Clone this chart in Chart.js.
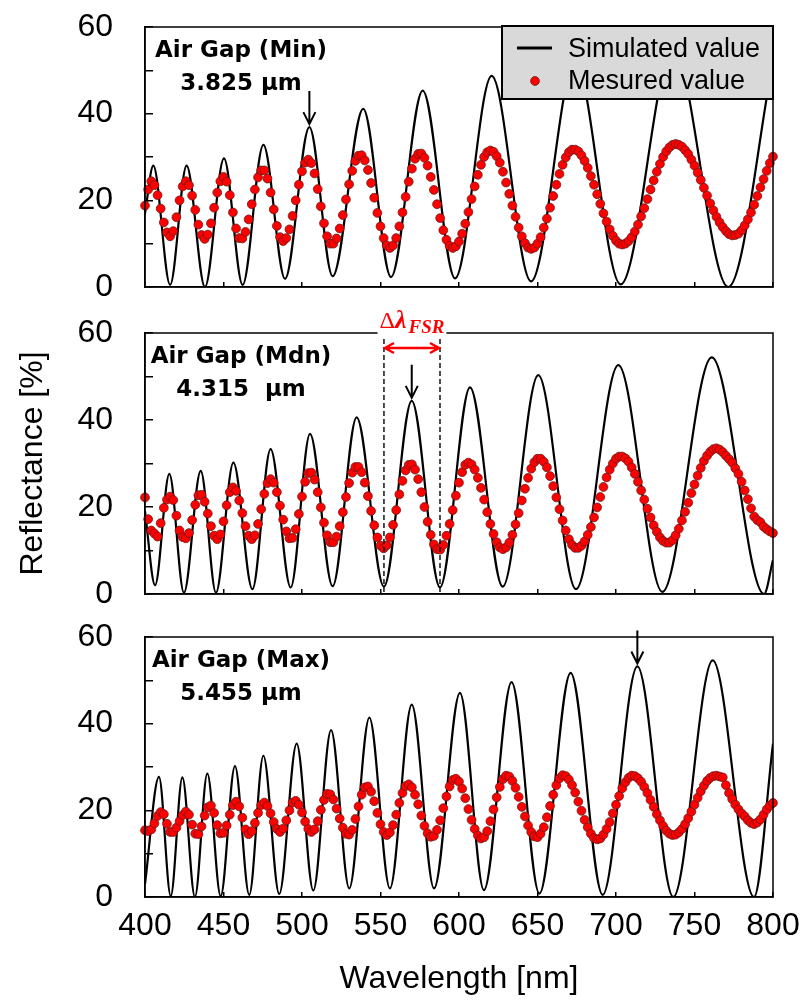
<!DOCTYPE html>
<html>
<head>
<meta charset="utf-8">
<title>Reflectance spectra</title>
<script src="https://cdn.jsdelivr.net/npm/chart.js@4.4.1/dist/chart.umd.min.js"></script>
<style>
  body { margin: 0; background: #fff; }
  #wrap { position: relative; width: 805px; height: 1000px; }
  #wrap canvas { position: absolute; left: 0; }
</style>
</head>
<body>
<div id="wrap">
  <canvas id="panelMin" width="805" height="310" style="top:0px"></canvas>
  <canvas id="panelMdn" width="805" height="320" style="top:300px"></canvas>
  <canvas id="panelMax" width="805" height="400" style="top:600px"></canvas>
</div>
<script>
// measured reflectance [%], one reading every 2 nm from 400 to 800 nm
const measStart = 400;
const measStep = 2;

const measMin = [
  18.8, 22.5, 24.4, 23.5, 21.2, 18.1, 14.9, 12.6, 11.7, 12.9,
  16.1, 20.0, 23.2, 24.4, 23.5, 21.1, 17.8, 14.4, 12.0, 11.1,
  12.1, 14.7, 18.3, 21.8, 24.4, 25.4, 24.3, 21.2, 17.2, 13.5,
  11.3, 11.2, 12.7, 15.6, 19.1, 22.5, 25.3, 26.9, 26.9, 25.0,
  21.8, 17.9, 14.1, 11.5, 10.6, 11.3, 13.3, 16.4, 20.0, 23.6,
  26.7, 28.7, 29.4, 28.6, 26.2, 22.6, 18.6, 14.7, 11.7, 10.0,
  10.0, 11.2, 13.5, 16.6, 20.2, 23.7, 26.8, 29.1, 30.3, 30.4,
  29.2, 27.0, 24.0, 20.6, 17.1, 14.0, 11.3, 9.6, 9.0, 9.6,
  11.3, 14.0, 17.2, 20.8, 24.3, 27.3, 29.6, 30.7, 30.8, 29.8,
  28.0, 25.4, 22.4, 19.1, 15.9, 13.1, 10.9, 9.5, 9.0, 9.4,
  10.5, 12.3, 14.6, 17.3, 20.3, 23.2, 25.9, 28.2, 30.0, 31.1,
  31.5, 31.2, 30.2, 28.7, 26.6, 24.1, 21.5, 18.8, 16.2, 13.7,
  11.7, 10.1, 9.1, 8.8, 9.1, 10.0, 11.5, 13.7, 15.8, 18.3,
  21.0, 23.6, 26.1, 28.2, 29.9, 31.1, 31.7, 31.7, 31.3, 30.4,
  29.1, 27.5, 25.6, 23.6, 21.4, 19.2, 17.0, 15.1, 13.3, 11.8,
  10.7, 10.0, 9.8, 10.0, 10.6, 11.5, 12.8, 14.4, 16.3, 18.2,
  20.3, 22.5, 24.6, 26.6, 28.4, 30.0, 31.3, 32.2, 32.8, 33.0,
  32.8, 32.4, 31.6, 30.7, 29.4, 28.0, 26.4, 24.7, 22.9, 21.1,
  19.3, 17.7, 16.2, 14.9, 13.8, 12.9, 12.2, 11.9, 12.0, 12.3,
  13.1, 14.2, 15.6, 17.2, 19.0, 21.0, 23.0, 24.9, 26.8, 28.6,
  30.1
];

const measMdn = [
  22.2, 17.2, 14.6, 13.9, 13.2, 16.3, 19.8, 21.7, 22.4, 21.6,
  18.0, 14.6, 13.1, 12.8, 14.0, 17.0, 20.5, 22.7, 22.8, 21.2,
  18.5, 15.6, 13.4, 12.6, 13.7, 16.7, 20.4, 23.4, 24.5, 23.7,
  21.5, 18.6, 15.6, 13.4, 12.6, 13.5, 16.1, 19.5, 23.0, 25.5,
  26.4, 25.6, 23.4, 20.3, 17.1, 14.4, 12.8, 12.9, 14.9, 18.4,
  22.4, 25.8, 27.8, 27.9, 26.3, 23.4, 19.9, 16.4, 13.5, 11.9,
  11.9, 13.2, 15.6, 18.8, 22.3, 25.5, 27.9, 29.2, 29.2, 28.0,
  25.6, 22.5, 19.1, 15.8, 13.0, 11.1, 10.5, 11.2, 13.0, 15.9,
  19.3, 22.9, 26.0, 28.4, 29.7, 29.8, 28.6, 26.4, 23.4, 20.0,
  16.6, 13.6, 11.4, 10.3, 10.2, 11.3, 13.4, 16.1, 19.3, 22.6,
  25.6, 28.0, 29.7, 30.2, 29.8, 28.6, 26.7, 24.4, 21.7, 18.8,
  16.1, 13.8, 11.9, 10.7, 10.3, 10.7, 11.8, 13.6, 16.0, 18.6,
  21.5, 24.2, 26.7, 28.8, 30.3, 31.1, 31.1, 30.4, 29.1, 27.1,
  24.8, 22.2, 19.5, 16.9, 14.6, 12.6, 11.3, 10.6, 10.6, 11.1,
  12.1, 13.6, 15.4, 17.6, 19.9, 22.3, 24.6, 26.8, 28.6, 30.0,
  31.1, 31.6, 31.6, 31.2, 30.4, 29.1, 27.6, 25.8, 23.8, 21.7,
  19.6, 17.6, 15.8, 14.3, 13.0, 12.2, 11.8, 11.8, 12.4, 13.5,
  15.0, 16.9, 18.9, 21.0, 23.2, 25.2, 27.2, 29.0, 30.6, 31.8,
  32.7, 33.3, 33.5, 33.2, 32.6, 31.8, 31.0, 30.2, 28.9, 27.6,
  25.8, 23.8, 21.8, 19.7, 17.8, 17.0, 16.5, 15.5, 14.9, 14.4,
  14.0
];

const measMax = [
  15.4, 15.2, 15.6, 17.0, 18.7, 19.6, 19.1, 16.9, 15.0, 15.0,
  16.0, 17.5, 18.9, 19.7, 19.0, 16.7, 14.6, 14.5, 16.3, 18.8,
  20.7, 21.1, 19.4, 16.6, 14.7, 14.8, 16.5, 19.0, 21.2, 22.0,
  20.9, 18.3, 15.6, 14.5, 15.2, 17.1, 19.4, 21.2, 21.8, 21.0,
  19.3, 17.3, 15.7, 15.0, 15.8, 17.7, 20.0, 21.8, 22.2, 21.3,
  19.5, 17.4, 15.7, 15.0, 15.6, 17.5, 20.1, 22.4, 23.8, 23.7,
  22.5, 20.4, 18.1, 16.0, 14.6, 14.4, 15.5, 18.0, 20.9, 23.6,
  25.3, 25.5, 24.3, 22.1, 19.4, 16.8, 15.0, 14.3, 14.9, 16.6,
  19.0, 21.7, 24.0, 25.6, 26.0, 25.3, 23.6, 21.4, 18.8, 16.4,
  14.7, 13.9, 14.1, 15.5, 17.7, 20.5, 23.2, 25.5, 27.0, 27.3,
  26.6, 25.0, 22.8, 20.3, 17.8, 15.7, 14.2, 13.5, 13.8, 15.2,
  17.5, 20.2, 23.0, 25.4, 27.2, 28.0, 27.8, 26.8, 25.2, 23.1,
  20.8, 18.6, 16.5, 15.0, 14.0, 13.8, 14.6, 16.1, 18.4, 21.0,
  23.6, 25.8, 27.4, 28.1, 27.9, 27.1, 25.8, 24.1, 22.0, 19.9,
  17.8, 16.1, 14.6, 13.6, 13.3, 13.5, 14.4, 15.7, 17.3, 19.3,
  21.3, 23.3, 25.1, 26.5, 27.5, 28.0, 27.9, 27.4, 26.6, 25.4,
  24.0, 22.4, 20.8, 19.1, 17.7, 16.4, 15.3, 14.6, 14.3, 14.4,
  14.9, 15.7, 16.8, 18.2, 19.7, 21.3, 22.9, 24.4, 25.7, 26.8,
  27.5, 27.9, 28.0, 27.8, 27.6, 25.8, 24.0, 22.6, 21.3, 20.2,
  19.3, 18.6, 17.7, 17.1, 16.8, 17.2, 17.9, 19.0, 20.2, 21.1,
  21.7
];

// simulated curves, given at their maxima and minima (wavelength nm, reflectance %)
const simMinWl = [400, 405.3, 416, 426.5, 438.2, 450.3, 462.2, 475.4, 489.2, 504.7, 519.5,
  539, 556.7, 576.9, 597.5, 620.8, 645.9, 673.9, 703, 736.3, 771.5, 800];
const simMinR = [17, 28.0, 0.5, 28.0, 0, 29.7, 0.5, 32.8, 1.9, 36.9, 2.5,
  41.1, 2.3, 45.3, 2.0, 48.7, 1.3, 52, 0.6, 55, 0, 52];

const simMdnWl = [400, 406.4, 415.5, 424.8, 435.5, 445.2, 456.3, 468.4, 480, 492.8, 505.1, 519.5,
  534.8, 552.2, 569.9, 587.9, 607, 627.8, 650.5, 674.5, 701.5, 729.5, 761, 794.3, 800];
const simMdnR = [19, 2.0, 27.6, 0.3, 28.3, 0.3, 30.2, 1.1, 33.3, 1.5, 36.8, 1.8,
  40.6, 1.7, 44.4, 1.5, 47.5, 1.7, 50.3, 1.1, 52.6, 0.5, 54.4, 0, 7.8];

const simMaxWl = [400, 408.9, 416.4, 423.8, 431.8, 439.7, 448.2, 457.3, 466.4, 475.4, 485.5, 496.6,
  507.2, 518.5, 530.1, 542.9, 556, 569.9, 584.1, 600.6, 615.9, 633.5, 651.2, 671.1, 691.5,
  713.6, 736.5, 761.6, 787.9, 800];
const simMaxR = [3, 27.7, 0.2, 27.6, 0, 28.5, 0.2, 30.2, 0.5, 32.6, 0.7, 35.4,
  1.5, 38.5, 2.0, 41.4, 2.0, 44.4, 2.0, 47.1, 1.6, 49.6, 0.8, 51.7, 0.5,
  53.2, 0, 54.6, 0, 35.4];

const gapNames = ['Air Gap (Min)', 'Air Gap (Mdn)', 'Air Gap (Max)'];
const gapSizes = ['3.825 μm', '4.315  μm', '5.455 μm'];
// index of the simulated peak marked with an arrow in each panel
const markedPeak = [9, 14, 25];
// the two minima bracketing the free spectral range in the middle panel
const fsrMinima = [13, 15];

const xRange = [400, 800];
const xStep = 50;
const yRange = [0, 60];
const yStep = 10;

const FONT = '"Liberation Sans", Arial, sans-serif';
const RED = '#ff0000';
Chart.defaults.font.family = FONT;
Chart.defaults.color = '#000';

function downArrow(ctx, x, y0, y1) {
  ctx.strokeStyle = '#000';
  ctx.lineWidth = 2;
  ctx.beginPath();
  ctx.moveTo(x, y0);
  ctx.lineTo(x, y1);
  ctx.moveTo(x - 6, y1 - 12);
  ctx.lineTo(x, y1);
  ctx.lineTo(x + 6, y1 - 12);
  ctx.stroke();
}

function spanArrow(ctx, xa, xb, y) {
  ctx.strokeStyle = RED;
  ctx.lineWidth = 2.5;
  ctx.beginPath();
  ctx.moveTo(xa + 1, y);
  ctx.lineTo(xb - 1, y);
  ctx.moveTo(xa + 10, y - 5);
  ctx.lineTo(xa + 1, y);
  ctx.lineTo(xa + 10, y + 5);
  ctx.moveTo(xb - 10, y - 5);
  ctx.lineTo(xb - 1, y);
  ctx.lineTo(xb - 10, y + 5);
  ctx.stroke();
}

function drawFsr(ctx, area, xa, xb) {
  ctx.strokeStyle = '#000';
  ctx.lineWidth = 1.4;
  ctx.setLineDash([5, 3]);
  [xa, xb].forEach(px => {
    ctx.beginPath();
    ctx.moveTo(px, area.top + 6);
    ctx.lineTo(px, area.bottom);
    ctx.stroke();
  });
  ctx.setLineDash([]);
  spanArrow(ctx, xa, xb, area.top + 15);

  // Δλ with FSR subscript
  const fDelta = '24px "Liberation Serif"';
  const fLambda = 'bold italic 26px "Liberation Serif"';
  const fSub = 'bold italic 19px "Liberation Serif"';
  ctx.font = fDelta; const wD = ctx.measureText('Δ').width;
  ctx.font = fLambda; const wL = ctx.measureText('λ').width;
  ctx.font = fSub; const wS = ctx.measureText('FSR').width;
  const total = wD + wL + wS + 2;
  let tx = (xa + xb) / 2 - total / 2;
  const base = area.top - 5;
  ctx.fillStyle = '#fff';
  ctx.fillRect(tx - 2, base - 19, total + 4, 25);
  ctx.fillStyle = RED;
  ctx.textAlign = 'left';
  ctx.textBaseline = 'alphabetic';
  ctx.font = fDelta; ctx.fillText('Δ', tx, base); tx += wD;
  ctx.font = fLambda; ctx.fillText('λ', tx, base); tx += wL + 2;
  ctx.font = fSub; ctx.fillText('FSR', tx, base + 5);
}

function drawLegend(ctx, area, chart) {
  const w = 271, h = 73;
  const lx = area.right - w, ly = area.top - 1;
  ctx.fillStyle = '#d9d9d9';
  ctx.fillRect(lx, ly, w, h);
  ctx.strokeStyle = '#000';
  ctx.lineWidth = 2;
  ctx.strokeRect(lx, ly, w, h);

  const [meas, sim] = chart.data.datasets;
  ctx.lineWidth = 3;
  ctx.beginPath();
  ctx.moveTo(lx + 15, ly + 22);
  ctx.lineTo(lx + 50, ly + 22);
  ctx.stroke();

  ctx.beginPath();
  ctx.arc(lx + 33, ly + 55, 4.4, 0, Math.PI * 2);
  ctx.fillStyle = RED;
  ctx.fill();
  ctx.lineWidth = 0.8;
  ctx.strokeStyle = '#6b1b1b';
  ctx.stroke();

  ctx.fillStyle = '#000';
  ctx.font = '27px ' + FONT;
  ctx.textAlign = 'left';
  ctx.textBaseline = 'alphabetic';
  ctx.fillText(sim.label, lx + 66, ly + 31);
  ctx.fillText(meas.label, lx + 66, ly + 63);
}

function decoPlugin(p) {
  return {
    id: 'deco',
    afterDraw(chart) {
      const { ctx, chartArea: a, scales: { x, y } } = chart;
      ctx.save();
      // closed frame around the plot area
      ctx.strokeStyle = '#000';
      ctx.lineWidth = 1.5;
      ctx.strokeRect(a.left, a.top, a.right - a.left, a.bottom - a.top);

      ctx.fillStyle = '#000';
      ctx.font = 'bold 23px "DejaVu Sans"';
      ctx.textAlign = 'center';
      ctx.textBaseline = 'alphabetic';
      ctx.fillText(p.name, a.left + 96, a.top + 30);
      ctx.fillText(p.size, a.left + 96, a.top + 63);

      const px = x.getPixelForValue(p.simWl[p.mark]);
      const py = y.getPixelForValue(p.simR[p.mark]) - 3;
      downArrow(ctx, px, py - 33, py);

      if (p.fsr) {
        drawFsr(ctx, a, x.getPixelForValue(p.simWl[p.fsr[0]]), x.getPixelForValue(p.simWl[p.fsr[1]]));
      }
      if (p.legend) drawLegend(ctx, a, chart);
      ctx.restore();
    }
  };
}

function makePanel(id, p) {
  const canvas = document.getElementById(id);
  const H = canvas.height;
  return new Chart(canvas, {
    type: 'scatter',
    data: {
      datasets: [
        {
          label: 'Mesured value',
          data: p.meas.map((r, i) => ({ x: measStart + i * measStep, y: r })),
          pointRadius: 4.4,
          pointBackgroundColor: RED,
          pointBorderColor: '#6b1b1b',
          pointBorderWidth: 0.8,
          clip: false,
          order: 0
        },
        {
          label: 'Simulated value',
          data: p.simWl.map((w, i) => ({ x: w, y: p.simR[i] })),
          showLine: true,
          borderColor: '#000',
          borderWidth: 2.2,
          pointRadius: 0,
          cubicInterpolationMode: 'monotone',
          order: 1
        }
      ]
    },
    options: {
      responsive: false,
      animation: false,
      devicePixelRatio: 1,
      events: [],
      layout: { padding: { top: p.top, right: 32, left: 0, bottom: 0 } },
      plugins: { legend: { display: false }, tooltip: { enabled: false } },
      scales: {
        x: {
          type: 'linear',
          min: xRange[0], max: xRange[1],
          ticks: { stepSize: xStep, display: p.xLabels, padding: 15, font: { size: 32 } },
          grid: { drawOnChartArea: false, tickLength: -5, color: '#000', lineWidth: 1.5 },
          border: { color: '#000', width: 1.5 },
          title: { display: p.xLabels, text: 'Wavelength [nm]', font: { size: 32 }, padding: { top: 0, bottom: 2 } },
          afterFit: s => { s.height = H - p.bottom; s.paddingLeft = 0; s.paddingRight = 0; }
        },
        y: {
          min: yRange[0], max: yRange[1],
          ticks: { stepSize: yStep, padding: 40, font: { size: 32 }, callback: v => (v % 20 === 0 ? v : '') },
          grid: { drawOnChartArea: false, tickLength: -8, color: '#000', lineWidth: 1.5 },
          border: { color: '#000', width: 1.5 },
          title: { display: p.yTitle, text: 'Reflectance [%]', font: { size: 32 }, padding: { top: 14, bottom: 0 } },
          afterFit: s => { s.width = 145; s.paddingTop = 0; s.paddingBottom = 0; }
        }
      }
    },
    plugins: [decoPlugin(p)]
  });
}

makePanel('panelMin', {
  meas: measMin, simWl: simMinWl, simR: simMinR,
  name: gapNames[0], size: gapSizes[0], mark: markedPeak[0],
  top: 27, bottom: 287, xLabels: false, yTitle: false, legend: true
});
makePanel('panelMdn', {
  meas: measMdn, simWl: simMdnWl, simR: simMdnR,
  name: gapNames[1], size: gapSizes[1], mark: markedPeak[1], fsr: fsrMinima,
  top: 33, bottom: 294, xLabels: false, yTitle: true
});
makePanel('panelMax', {
  meas: measMax, simWl: simMaxWl, simR: simMaxR,
  name: gapNames[2], size: gapSizes[2], mark: markedPeak[2],
  top: 37, bottom: 297, xLabels: true, yTitle: false
});
</script>
</body>
</html>
